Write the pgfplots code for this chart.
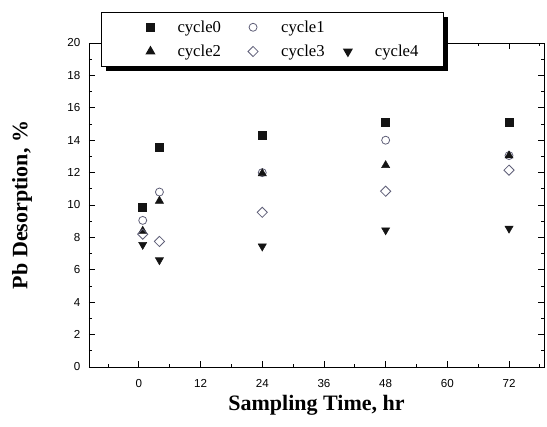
\documentclass[border=0pt]{standalone}
\usepackage{fontspec}
\setmainfont{Liberation Serif}
\setsansfont{Liberation Sans}
\usepackage{pgfplots}
\pgfplotsset{compat=1.18}
\usetikzlibrary{shadows}
\definecolor{hollow}{RGB}{95,95,120}
\definecolor{solid}{RGB}{20,20,20}
\pgfplotsset{lgd/.style={legend image code/.code={\path (-17pt,0pt); \draw[##1] plot coordinates {(0pt,0pt)};}}}

\begin{document}
\begin{tikzpicture}
\begin{axis}[scale only axis,width=341.25pt,height=243pt,
 xmin=-9.7,xmax=78.8,ymin=0,ymax=20,
 xtick={0,12,...,72},ytick={0,2,...,20},
 minor xtick={-6,6,...,78},minor ytick={1,3,...,19},
 tick align=inside,major tick length=4.5pt,minor tick length=2.5pt,
 every tick/.style={black,line width=0.6pt},
 axis line style={line width=0.6pt},
 /pgf/number format/assume math mode=true,
 tick label style={font=\fontsize{8.7}{10}\sffamily},
 xticklabel shift=6pt,yticklabel shift=3pt,
 xlabel={Sampling Time, hr},ylabel={Pb Desorption, \%},
 label style={font=\fontsize{16.5}{19}\selectfont\bfseries},
 xlabel style={at={(axis description cs:0.5,-0.117)},anchor=center},
 ylabel style={at={(axis description cs:-0.147,0.5)},anchor=center},
 legend columns=3,
 legend style={at={(axis description cs:0.404,1.096)},anchor=north,
  draw=black,line width=0.9pt,fill=white,
  font=\fontsize{12.5}{15}\selectfont,
  inner xsep=19pt,inner ysep=4pt,
  nodes={inner xsep=0pt,inner ysep=2pt},
  cells={anchor=west},row sep=4pt,
  /tikz/column 1/.style={column sep=17.25pt},
  /tikz/column 2/.style={column sep=6.6pt},
  /tikz/column 3/.style={column sep=17.25pt},
  /tikz/column 4/.style={column sep=0pt},
  /tikz/column 5/.style={column sep=17.25pt},
  drop shadow={shadow xshift=3pt,shadow yshift=-3.5pt,fill=black,opacity=1}},
]
\addplot[only marks,lgd,mark=square*,mark size=3pt,solid,mark options={fill=solid,draw=solid}]
 coordinates {(0.75,9.85)(4,13.55)(24,14.3)(48,15.1)(72,15.1)};
\addlegendentry{cycle0}
\addplot[only marks,lgd,mark=o,mark size=3pt,hollow,mark options={fill=white,draw=hollow,line width=0.6pt}]
 coordinates {(0.75,9.05)(4,10.8)(24,12.0)(48,14.0)(72,13.05)};
\addlegendentry{cycle1}
\addlegendimage{empty legend}
\addlegendentry{}
\addplot[only marks,lgd,mark=triangle*,mark size=3.5pt,solid,mark options={fill=solid,draw=solid}]
 coordinates {(0.75,8.4)(4,10.25)(24,11.95)(48,12.45)(72,13.05)};
\addlegendentry{cycle2}
\addplot[only marks,lgd,mark=square,mark size=2.7pt,hollow,mark options={rotate=45,fill=white,draw=hollow,line width=0.6pt}]
 coordinates {(0.75,8.2)(4,7.75)(24,9.55)(48,10.85)(72,12.15)};
\addlegendentry{cycle3}
\addplot[only marks,lgd,mark=triangle*,mark size=3.5pt,solid,mark options={rotate=180,fill=solid,draw=solid}]
 coordinates {(0.75,7.55)(4,6.6)(24,7.45)(48,8.45)(72,8.55)};
\addlegendentry{cycle4}
\end{axis}
\path (current axis.south west) ++(-66.75pt,-44.25pt) rectangle ++(410.25pt,319.5pt);
\end{tikzpicture}
\end{document}
